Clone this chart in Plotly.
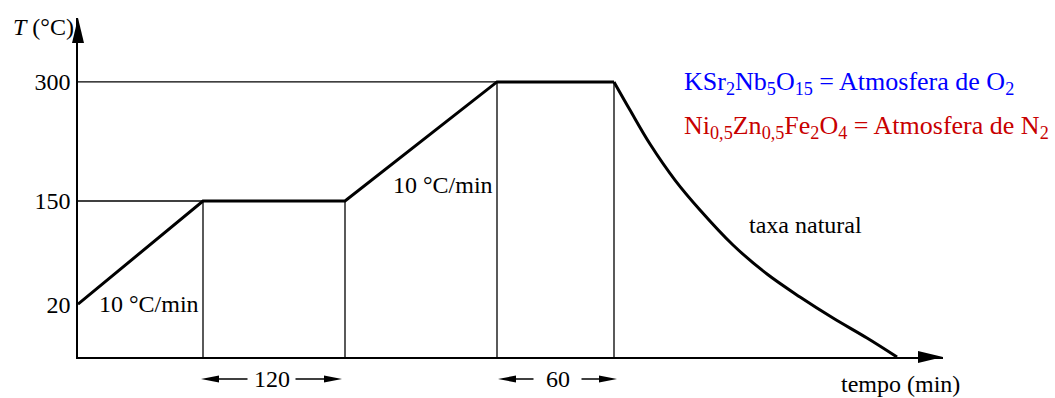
import plotly.graph_objects as go

# ---- heating programme (time axis is schematic, not to scale) ----
stage_time = [0, 125, 267, 419, 536]      # ramp 1 start, hold 1 start/end, hold 2 start/end
stage_temp = [20, 150, 150, 300, 300]     # °C

# natural cooling after the 300 °C hold
cool_time = [536, 552, 572, 597, 622, 655, 689, 722, 755, 789, 819]
cool_temp = [300, 264.6, 221.8, 176.4, 138.7, 94.6, 58.0, 29.1, 2.6, -22.6, -46.5]

temp_ticks = [20, 150, 300]
hold_labels = ["120", "60"]
ramp_labels = ["10 °C/min", "10 °C/min"]
cool_label = "taxa natural"
atmosphere_lines = [
    "KSr<sub>2</sub>Nb<sub>5</sub>O<sub>15</sub> = Atmosfera de O<sub>2</sub>",
    "Ni<sub>0,5</sub>Zn<sub>0,5</sub>Fe<sub>2</sub>O<sub>4</sub> = Atmosfera de N<sub>2</sub>",
]
atmosphere_colors = ["#0000ff", "#c80000"]

# ---- geometry ----
W, H = 1055, 398
AX_LEFT, AX_RIGHT = 78, 943      # px, time axis extent
AX_TOP, AX_BOTTOM = 18, 357      # px, temperature axis extent
T_MIN, T_MAX = -46.5, 380.5
FONT = "Liberation Serif"


def fx(p):
    return p / W


def fy(p):
    return 1 - p / H


fig = go.Figure()

# thin guide lines to the axes
gx, gy = [], []
gx += [0, stage_time[1], None]
gy += [stage_temp[1], stage_temp[1], None]
gx += [0, stage_time[3], None]
gy += [stage_temp[3], stage_temp[3], None]
for i in range(1, 5):
    gx += [stage_time[i], stage_time[i], None]
    gy += [T_MIN, stage_temp[i], None]
fig.add_trace(go.Scatter(x=gx, y=gy, mode="lines",
                         line=dict(color="black", width=1.3),
                         hoverinfo="skip", showlegend=False))

# heating programme
fig.add_trace(go.Scatter(x=stage_time, y=stage_temp, mode="lines",
                         line=dict(color="black", width=3),
                         showlegend=False))
# natural cooling
fig.add_trace(go.Scatter(x=cool_time, y=cool_temp, mode="lines",
                         line=dict(color="black", width=3, shape="spline", smoothing=1.0),
                         showlegend=False))

fig.update_xaxes(domain=[fx(AX_LEFT), fx(AX_RIGHT)],
                 range=[0, AX_RIGHT - AX_LEFT],
                 showline=True, linecolor="black", linewidth=1.5,
                 showgrid=False, zeroline=False, showticklabels=False, ticks="")
fig.update_yaxes(domain=[fy(AX_BOTTOM), fy(AX_TOP)],
                 range=[T_MIN, T_MAX],
                 showline=True, linecolor="black", linewidth=1.5,
                 showgrid=False, zeroline=False,
                 tickvals=temp_ticks, ticktext=[str(v) for v in temp_ticks],
                 ticks="outside", ticklen=1, tickcolor="rgba(0,0,0,0)",
                 tickfont=dict(family=FONT, size=24, color="black"))

shapes = []
# axis arrowheads
shapes.append(dict(type="path", xref="paper", yref="paper",
                   path=f"M{fx(AX_LEFT)},{fy(AX_TOP)} L{fx(AX_LEFT - 6)},{fy(AX_TOP + 25)} "
                        f"L{fx(AX_LEFT + 6)},{fy(AX_TOP + 25)} Z",
                   fillcolor="black", line=dict(width=0)))
shapes.append(dict(type="path", xref="paper", yref="paper",
                   path=f"M{fx(AX_RIGHT)},{fy(AX_BOTTOM)} L{fx(AX_RIGHT - 25)},{fy(AX_BOTTOM - 6)} "
                        f"L{fx(AX_RIGHT - 25)},{fy(AX_BOTTOM + 6)} Z",
                   fillcolor="black", line=dict(width=0)))

annotations = []

# hold durations with double arrows beneath the time axis
ARROW_Y = 379
HEAD_LEN, HEAD_HALF, GAP = 18, 3.5, 24
holds = [(stage_time[1] - 2, stage_time[2] - 3, hold_labels[0]),
         (stage_time[3] + 1, stage_time[4] + 3, hold_labels[1])]
for t0, t1, lab in holds:
    mid = (t0 + t1) / 2
    for tip, inner, sgn in [(t0, mid - GAP, 1), (t1, mid + GAP, -1)]:
        shapes.append(dict(type="line", xref="x", yref="paper",
                           x0=tip + sgn * HEAD_LEN * 0.5, x1=inner,
                           y0=fy(ARROW_Y), y1=fy(ARROW_Y),
                           line=dict(color="black", width=1.5)))
        shapes.append(dict(type="path", xref="x", yref="paper",
                           path=f"M{tip},{fy(ARROW_Y)} L{tip + sgn * HEAD_LEN},{fy(ARROW_Y - HEAD_HALF)} "
                                f"L{tip + sgn * HEAD_LEN},{fy(ARROW_Y + HEAD_HALF)} Z",
                           fillcolor="black", line=dict(width=0)))
    annotations.append(dict(x=mid, y=fy(ARROW_Y), xref="x", yref="paper",
                            text=lab, showarrow=False,
                            font=dict(family=FONT, size=24, color="black"),
                            xanchor="center", yanchor="middle"))

# ramp rates
annotations.append(dict(x=stage_time[0] + 19, y=stage_temp[0], xref="x", yref="y",
                        text=ramp_labels[0], showarrow=False,
                        font=dict(family=FONT, size=24, color="black"),
                        xanchor="left", yanchor="middle"))
annotations.append(dict(x=stage_time[3] - 2, y=170, xref="x", yref="y",
                        text=ramp_labels[1], showarrow=False,
                        font=dict(family=FONT, size=24, color="black"),
                        xanchor="right", yanchor="middle"))
annotations.append(dict(x=727, y=120, xref="x", yref="y",
                        text=cool_label, showarrow=False,
                        font=dict(family=FONT, size=24, color="black"),
                        xanchor="center", yanchor="middle"))

# axis titles
annotations.append(dict(x=fx(11), y=fy(27), xref="paper", yref="paper",
                        text="<i>T</i> (°C)", showarrow=False,
                        font=dict(family=FONT, size=24, color="black"),
                        xanchor="left", yanchor="middle"))
annotations.append(dict(x=fx(900), y=fy(384), xref="paper", yref="paper",
                        text="tempo (min)", showarrow=False,
                        font=dict(family=FONT, size=24, color="black"),
                        xanchor="center", yanchor="middle"))

# atmosphere used for each material
for i, (txt, col) in enumerate(zip(atmosphere_lines, atmosphere_colors)):
    annotations.append(dict(x=fx(682), y=fy(83 + 44 * i), xref="paper", yref="paper",
                            text=txt, showarrow=False,
                            font=dict(family=FONT, size=26, color=col),
                            xanchor="left", yanchor="middle"))

fig.update_layout(width=W, height=H,
                  margin=dict(l=0, r=0, t=0, b=0),
                  paper_bgcolor="white", plot_bgcolor="white",
                  showlegend=False, shapes=shapes, annotations=annotations)

fig.write_html("out.html")
